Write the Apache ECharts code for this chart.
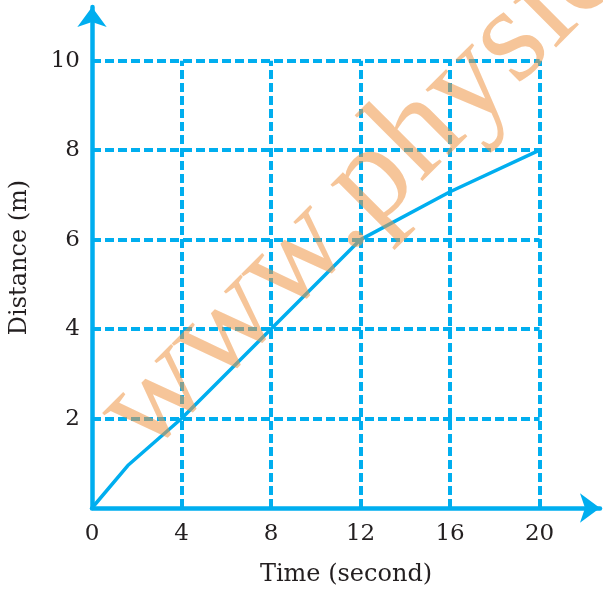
<!DOCTYPE html>
<html>
<head>
<meta charset="utf-8">
<script src="https://cdn.jsdelivr.net/npm/echarts@6/dist/echarts.min.js"></script>
<style>
html,body{margin:0;padding:0;background:#fff;}
#c{width:603px;height:592px;}
</style>
</head>
<body>
<div id="c"></div>
<script>
// Data
const times = [0, 1.6, 4, 8, 12, 16, 20];
const distances = [0, 0.95, 2, 4, 6, 7.07, 8];
const xTicks = [0, 4, 8, 12, 16, 20];
const yTicks = [2, 4, 6, 8, 10];
const xGridLines = [4, 8, 12, 16, 20];
const yGridLines = [2, 4, 6, 8, 10];
const xName = 'Time (second)';
const yName = 'Distance (m)';
const watermark = 'www.physics';

const BLUE = '#00AEEF';
const TEXT = '#231F20';
const FONT = 'DejaVu Serif';

const gridX = xGridLines[xGridLines.length - 1];
const gridY = yGridLines[yGridLines.length - 1];

const markData = [];
yGridLines.forEach(y => markData.push([{coord: [0, y]}, {coord: [gridX, y]}]));
xGridLines.forEach(x => markData.push([{coord: [x, 0]}, {coord: [x, gridY]}]));

const chart = echarts.init(document.getElementById('c'), null, {renderer: 'canvas'});
chart.setOption({
  animation: false,
  backgroundColor: '#fff',
  grid: {left: 92, right: 2, top: 7, bottom: 82, containLabel: false},
  xAxis: {
    type: 'value', min: 0, max: 22.7, interval: 4,
    name: xName, nameLocation: 'middle', nameGap: 55,
    nameTextStyle: {fontFamily: FONT, fontSize: 24, color: TEXT},
    axisLine: {show: true, lineStyle: {color: BLUE, width: 4.5}, symbol: ['none', 'arrow'], symbolSize: [22, 20]},
    axisTick: {show: false},
    splitLine: {show: false},
    axisLabel: {
      margin: 15, fontFamily: FONT, fontSize: 23, color: TEXT,
      formatter: v => xTicks.includes(v) ? String(v) : ''
    }
  },
  yAxis: {
    type: 'value', min: 0, max: 11.2, interval: 2,
    name: yName, nameLocation: 'middle', nameGap: 60,
    nameTextStyle: {fontFamily: FONT, fontSize: 24, color: TEXT},
    axisLine: {show: true, lineStyle: {color: BLUE, width: 4.5}, symbol: ['none', 'arrow'], symbolSize: [22, 20]},
    axisTick: {show: false},
    splitLine: {show: false},
    axisLabel: {
      margin: 12, fontFamily: FONT, fontSize: 23, color: TEXT,
      formatter: v => yTicks.includes(v) ? String(v) : ''
    }
  },
  series: [
    {
      type: 'line', data: [], z: 1, silent: true,
      markLine: {
        silent: true, symbol: ['none', 'none'], label: {show: false},
        lineStyle: {color: BLUE, type: [9, 4], width: 4},
        emphasis: {disabled: true},
        data: markData
      }
    },
    {
      type: 'line', z: 3, symbol: 'none', smooth: false,
      lineStyle: {color: BLUE, width: 3.5},
      data: times.map((t, i) => [t, distances[i]])
    }
  ],
  graphic: [{
    type: 'text', z: 100, silent: true,
    x: 121, y: 432, rotation: Math.PI / 4,
    style: {
      text: watermark, fill: 'rgba(238,150,70,0.55)',
      font: '136px "Liberation Serif", serif',
      align: 'left', verticalAlign: 'middle'
    }
  }]
});
</script>
</body>
</html>
